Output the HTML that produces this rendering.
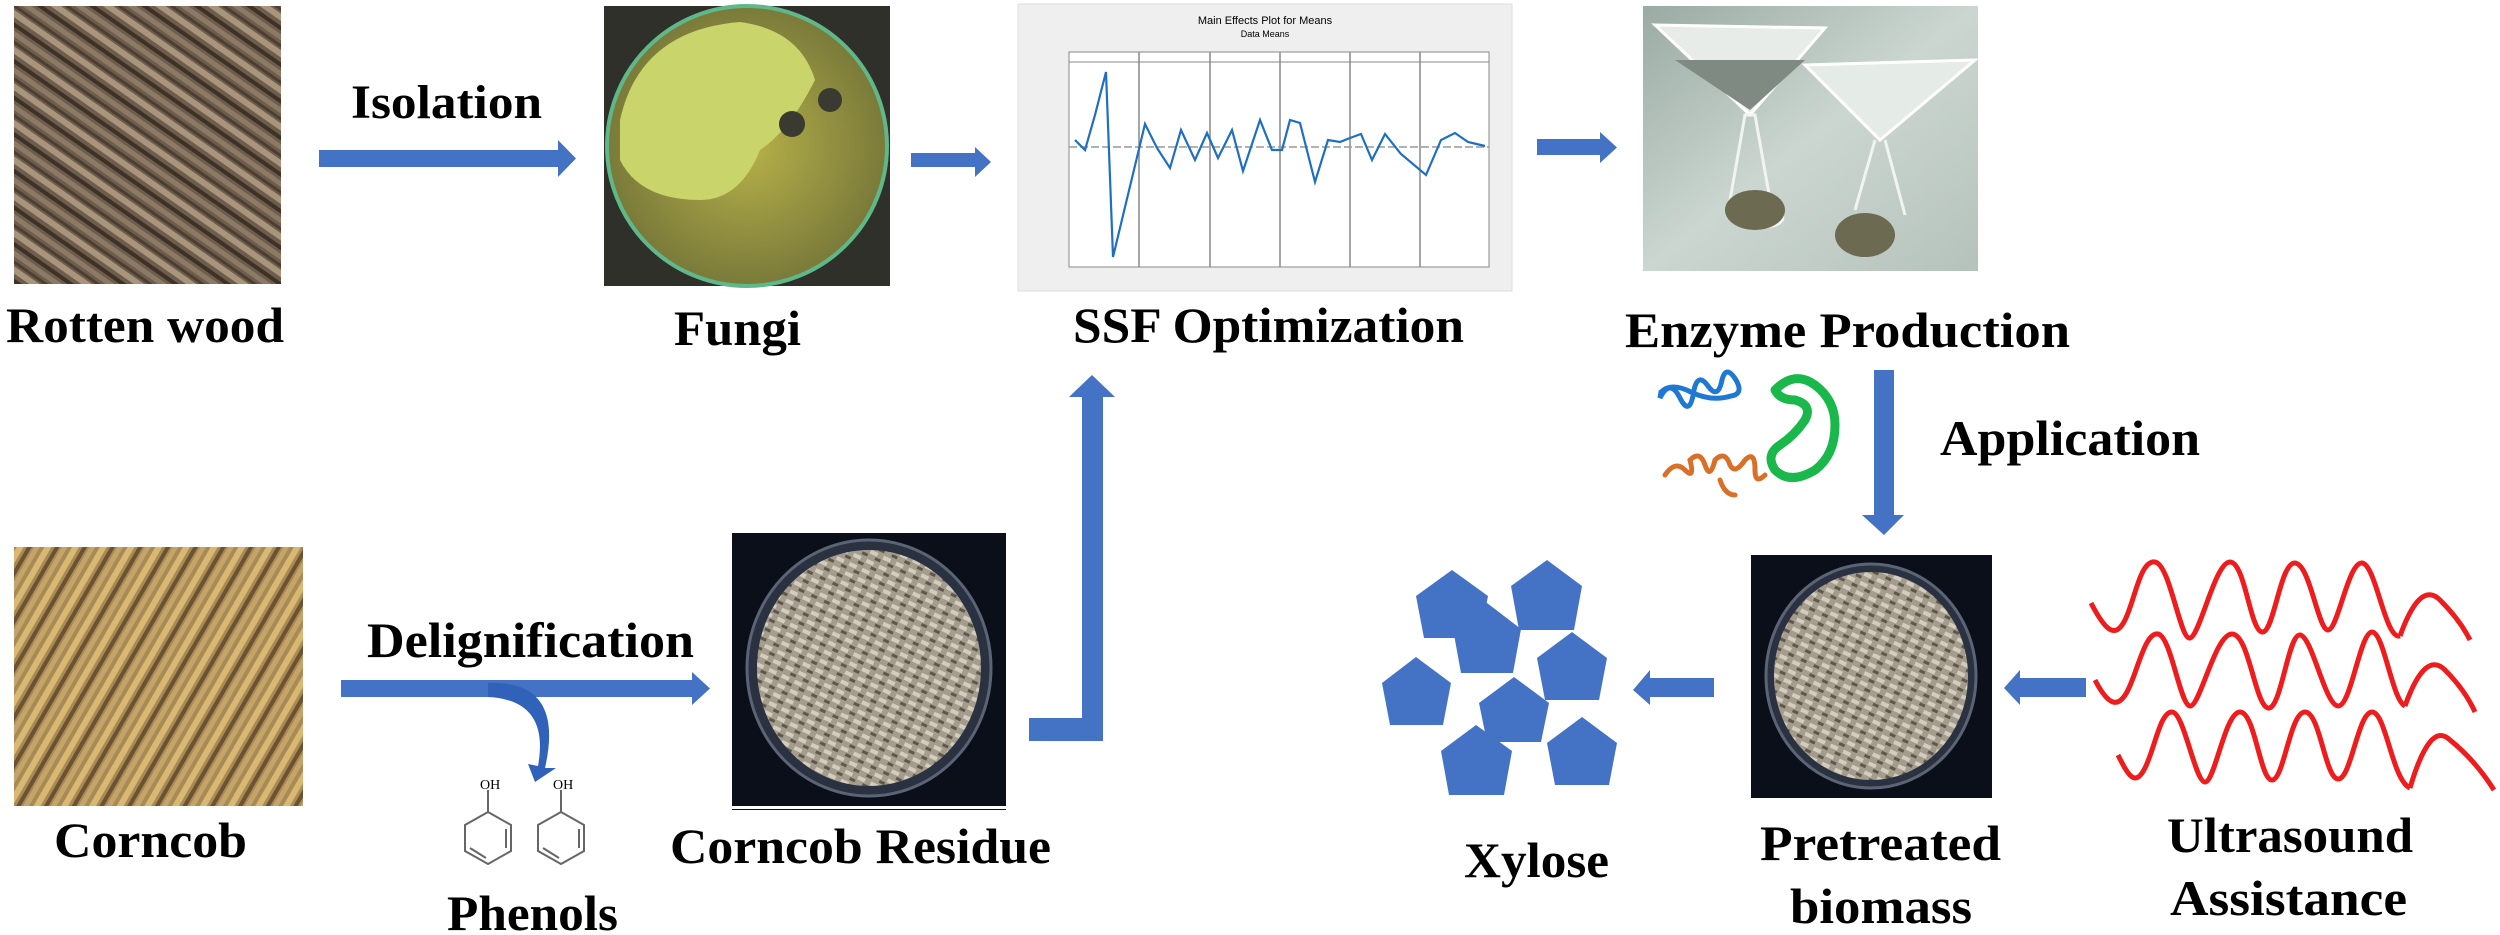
<!DOCTYPE html>
<html><head><meta charset="utf-8"><style>
html,body{margin:0;padding:0;background:#fff;}
svg{display:block;}
text{font-family:"Liberation Serif",serif;font-weight:bold;fill:#000;}
</style></head><body>
<svg width="2500" height="935" viewBox="0 0 2500 935" xmlns="http://www.w3.org/2000/svg">
<defs>
<pattern id="wood" width="40" height="30" patternUnits="userSpaceOnUse" patternTransform="rotate(35)">
<rect width="40" height="30" fill="#6e5d4c"/>
<rect y="0" width="40" height="6" fill="#a8957c"/>
<rect y="10" width="40" height="4" fill="#3e3226"/>
<rect y="17" width="40" height="5" fill="#8c7a66"/>
<rect y="25" width="40" height="3" fill="#4c3f32"/>
</pattern>
<pattern id="corn" width="36" height="24" patternUnits="userSpaceOnUse" patternTransform="rotate(-60)">
<rect width="36" height="24" fill="#a88a55"/>
<rect width="36" height="6" fill="#d9b873"/>
<rect y="9" width="36" height="4" fill="#6b5232"/>
<rect y="15" width="36" height="5" fill="#c4a468"/>
</pattern>
<pattern id="grain" width="14" height="10" patternUnits="userSpaceOnUse" patternTransform="rotate(25)">
<rect width="14" height="10" fill="#a49c8c"/>
<rect width="8" height="4" fill="#d4ccbc"/>
<rect x="7" y="5" width="6" height="3" fill="#5e574b"/>
</pattern>
<radialGradient id="plate" cx="0.5" cy="0.5" r="0.5">
<stop offset="0" stop-color="#b7b24a"/><stop offset="1" stop-color="#7a7a3a"/>
</radialGradient>
<linearGradient id="enz" x1="0" y1="0" x2="1" y2="1">
<stop offset="0" stop-color="#9aaba3"/><stop offset="0.5" stop-color="#cbd6d0"/><stop offset="1" stop-color="#b5c2bb"/>
</linearGradient>
</defs>

<!-- Rotten wood -->
<rect x="14" y="6" width="267" height="278" fill="url(#wood)"/>
<text x="6" y="342" font-size="50" textLength="278" lengthAdjust="spacingAndGlyphs">Rotten wood</text>

<!-- Isolation arrow -->
<text x="351" y="118" font-size="48" textLength="191" lengthAdjust="spacingAndGlyphs">Isolation</text>
<polygon points="319,150 558,150 558,140 576,158.5 558,177 558,167 319,167" fill="#4472c4"/>

<!-- Fungi -->
<rect x="604" y="6" width="286" height="280" fill="#2f302a"/>
<circle cx="747" cy="146" r="140" fill="url(#plate)" stroke="#5fb88a" stroke-width="4"/>
<path d="M620,120 Q640,30 740,22 Q800,30 815,80 Q790,130 760,150 Q740,200 700,200 Q640,200 620,160 Z" fill="#c9d46a"/>
<circle cx="830" cy="100" r="12" fill="#3a3a30"/>
<circle cx="792" cy="124" r="13" fill="#3a3a30"/>
<text x="674" y="345" font-size="50" textLength="127" lengthAdjust="spacingAndGlyphs">Fungi</text>

<polygon points="911,153 975,153 975,147 991,162 975,177 975,167 911,167" fill="#4472c4"/>

<!-- SSF chart -->
<rect x="1018" y="4" width="494" height="287" fill="#efefef" stroke="#ddd"/>
<text x="1265" y="24" font-size="11" font-family="Liberation Sans" style="font-family:'Liberation Sans',sans-serif;font-weight:normal" text-anchor="middle">Main Effects Plot for Means</text>
<text x="1265" y="37" font-size="9" style="font-family:'Liberation Sans',sans-serif;font-weight:normal" text-anchor="middle">Data Means</text>
<rect x="1069" y="52" width="420" height="215" fill="#fff" stroke="#888"/>
<rect x="1069" y="52" width="420" height="10" fill="#fff" stroke="#888"/>
<g stroke="#888" stroke-width="1.5">
<line x1="1139" y1="52" x2="1139" y2="267"/><line x1="1210" y1="52" x2="1210" y2="267"/>
<line x1="1280" y1="52" x2="1280" y2="267"/><line x1="1350" y1="52" x2="1350" y2="267"/>
<line x1="1420" y1="52" x2="1420" y2="267"/>
</g>
<line x1="1069" y1="147" x2="1489" y2="147" stroke="#999" stroke-dasharray="8,3" stroke-width="1.5"/>
<polyline fill="none" stroke="#1f6fc1" stroke-width="2.2" points="1075,140 1085,150 1095,115 1106,72 1113,257 1145,124 1157,148 1170,168 1181,130 1195,160 1207,133 1218,158 1232,130 1243,171 1260,120 1272,150 1282,150 1290,120 1300,123 1315,182 1328,140 1340,142 1350,138 1361,134 1372,160 1385,134 1401,154 1426,175 1441,140 1455,133 1468,142 1485,146"/>
<text x="1073" y="342" font-size="50" textLength="391" lengthAdjust="spacingAndGlyphs">SSF Optimization</text>

<polygon points="1537,139 1600,139 1600,132 1617,147.5 1600,163 1600,155 1537,155" fill="#4472c4"/>

<!-- Enzyme production photo -->
<rect x="1643" y="6" width="335" height="265" fill="url(#enz)"/>
<polygon points="1655,25 1825,28 1750,115" fill="#e8ece8" stroke="#fff" stroke-width="3"/>
<polygon points="1675,60 1805,60 1750,110" fill="#7f8a83"/>
<polygon points="1805,65 1975,60 1880,140" fill="#e5ebe7" stroke="#fff" stroke-width="3"/>
<path d="M1745,115 L1730,200 Q1720,225 1760,228 Q1800,225 1770,200 L1755,115Z" fill="none" stroke="#f2f4f2" stroke-width="3"/>
<ellipse cx="1755" cy="210" rx="30" ry="20" fill="#6c6a50"/>
<ellipse cx="1865" cy="235" rx="30" ry="22" fill="#6c6a50"/>
<path d="M1875,140 L1855,210 M1885,140 L1905,215" stroke="#f2f4f2" stroke-width="3"/>
<text x="1625" y="347" font-size="50" textLength="445" lengthAdjust="spacingAndGlyphs">Enzyme  Production</text>

<!-- Enzyme squiggles -->
<g fill="none" stroke-width="5" stroke-linecap="round">
<path d="M1660,398 q10,-20 20,0 q10,20 14,-8 q4,-18 14,-4 q10,14 14,-6 q4,-16 14,0 q8,14 -5,16 q-20,6 -40,-4 q-20,-10 -30,0 z" stroke="#1f78d1"/>
<path d="M1775,390 q20,-20 40,-5 q20,15 20,40 q0,30 -20,45 q-25,15 -40,0 q-10,-15 5,-25 q15,-10 25,-25 q8,-15 -10,-20 q-15,0 -20,-10" stroke="#1ab84a" stroke-width="9"/>
<path d="M1665,475 q10,-15 20,-5 q10,10 5,-10 q10,-10 15,5 q5,15 10,-5 q10,-10 15,5 q5,10 15,-5 q10,-10 10,10 q0,15 10,5 M1720,480 q5,15 15,15" stroke="#d9702a"/>
</g>

<!-- Application arrow -->
<polygon points="1874,370 1894,370 1894,515 1904,515 1884,535 1862,515 1874,515" fill="#4472c4"/>
<text x="1940" y="455" font-size="50" textLength="260" lengthAdjust="spacingAndGlyphs">Application</text>

<!-- Corncob -->
<rect x="14" y="547" width="289" height="259" fill="url(#corn)"/>
<text x="54" y="857" font-size="50" textLength="193" lengthAdjust="spacingAndGlyphs">Corncob</text>

<text x="367" y="657" font-size="50" textLength="327" lengthAdjust="spacingAndGlyphs">Delignification</text>
<polygon points="341,680 692,680 692,672 710,688.5 692,705 692,697 341,697" fill="#4472c4"/>
<path d="M488,683 Q565,680 545,768 L556,768 L535,782 L528,764 L538,766 Q550,700 488,697 Z" fill="#2f62b8"/>

<!-- Phenols -->
<g fill="none" stroke="#666" stroke-width="2">
<polygon points="488,812 511,825 511,851 488,864 465,851 465,825"/>
<line x1="488" y1="812" x2="488" y2="790"/>
<line x1="506" y1="829" x2="506" y2="848"/><line x1="470" y1="848" x2="486" y2="858"/>
<polygon points="561,812 584,825 584,851 561,864 538,851 538,825"/>
<line x1="561" y1="812" x2="561" y2="790"/>
<line x1="579" y1="829" x2="579" y2="848"/><line x1="543" y1="848" x2="559" y2="858"/>
</g>
<text x="480" y="789" font-size="14" style="font-weight:normal" fill="#333">OH</text>
<text x="553" y="789" font-size="14" style="font-weight:normal" fill="#333">OH</text>
<text x="447" y="930" font-size="50" textLength="171" lengthAdjust="spacingAndGlyphs">Phenols</text>

<!-- Corncob residue -->
<rect x="732" y="533" width="274" height="277" fill="#0b0f1a"/>
<ellipse cx="869" cy="668" rx="122" ry="128" fill="#2a3140" stroke="#5b6475" stroke-width="3"/>
<ellipse cx="869" cy="668" rx="112" ry="118" fill="url(#grain)"/>
<rect x="732" y="806" width="274" height="3" fill="#fff"/>
<text x="670" y="863" font-size="50" textLength="381" lengthAdjust="spacingAndGlyphs">Corncob Residue</text>

<!-- L arrow -->
<polygon points="1029,718 1082,718 1082,397 1069,397 1092,375 1115,397 1103,397 1103,741 1029,741" fill="#4472c4"/>

<!-- Pentagons -->
<g fill="#4472c4">
<polygon points="1452,570 1488,596 1480,638 1424,638 1416,596"/>
<polygon points="1547,560 1582,586 1574,630 1519,630 1511,586"/>
<polygon points="1487,603 1521,629 1513,673 1461,673 1453,629"/>
<polygon points="1572,632 1607,658 1599,700 1545,700 1537,658"/>
<polygon points="1416,657 1451,683 1443,725 1390,725 1382,683"/>
<polygon points="1514,677 1549,703 1541,742 1487,742 1479,703"/>
<polygon points="1476,725 1512,751 1504,795 1449,795 1441,751"/>
<polygon points="1582,717 1617,743 1609,785 1555,785 1547,743"/>
</g>
<text x="1464" y="877" font-size="50" textLength="145" lengthAdjust="spacingAndGlyphs">Xylose</text>

<polygon points="1714,678 1650,678 1650,670 1633,690 1650,705 1650,697 1714,697" fill="#4472c4"/>

<!-- Pretreated biomass -->
<rect x="1751" y="555" width="241" height="243" fill="#0b0f1a"/>
<ellipse cx="1871" cy="676" rx="105" ry="112" fill="#2a3140" stroke="#5b6475" stroke-width="3"/>
<ellipse cx="1871" cy="676" rx="97" ry="104" fill="url(#grain)"/>
<text x="1760" y="860" font-size="50" textLength="241" lengthAdjust="spacingAndGlyphs">Pretreated</text>
<text x="1790" y="923" font-size="50" textLength="182" lengthAdjust="spacingAndGlyphs">biomass</text>

<polygon points="2086,678 2020,678 2020,670 2004,688 2020,705 2020,697 2086,697" fill="#4472c4"/>

<!-- Ultrasound waves -->
<g fill="none" stroke="#ee1c1c" stroke-width="5">
<path d="M2091,603 C2105,630 2115,640 2125,620 S2140,560 2155,562 S2180,640 2190,638 S2215,562 2230,562 S2250,630 2262,632 S2280,562 2295,563 S2318,630 2328,630 S2348,562 2362,563 S2385,640 2400,636"/>
<path d="M2095,680 C2108,705 2118,710 2128,690 S2145,632 2158,634 S2180,705 2190,706 S2215,634 2232,634 S2255,705 2268,708 S2288,634 2300,635 S2325,705 2338,706 S2360,632 2372,632 S2392,700 2405,706"/>
<path d="M2118,755 C2128,775 2135,788 2145,768 S2160,712 2172,712 S2195,782 2205,782 S2225,712 2240,712 S2260,780 2272,780 S2290,712 2305,712 S2325,778 2338,779 S2358,712 2372,712 S2392,780 2410,788"/>
<path d="M2400,636 Q2420,580 2440,600 Q2460,620 2470,640"/>
<path d="M2405,706 Q2425,650 2445,670 Q2465,690 2475,712"/>
<path d="M2410,788 Q2430,720 2450,740 Q2475,760 2494,790"/>
</g>
<text x="2167" y="852" font-size="50" textLength="246" lengthAdjust="spacingAndGlyphs">Ultrasound</text>
<text x="2170" y="915" font-size="50" textLength="237" lengthAdjust="spacingAndGlyphs">Assistance</text>
</svg>
</body></html>
